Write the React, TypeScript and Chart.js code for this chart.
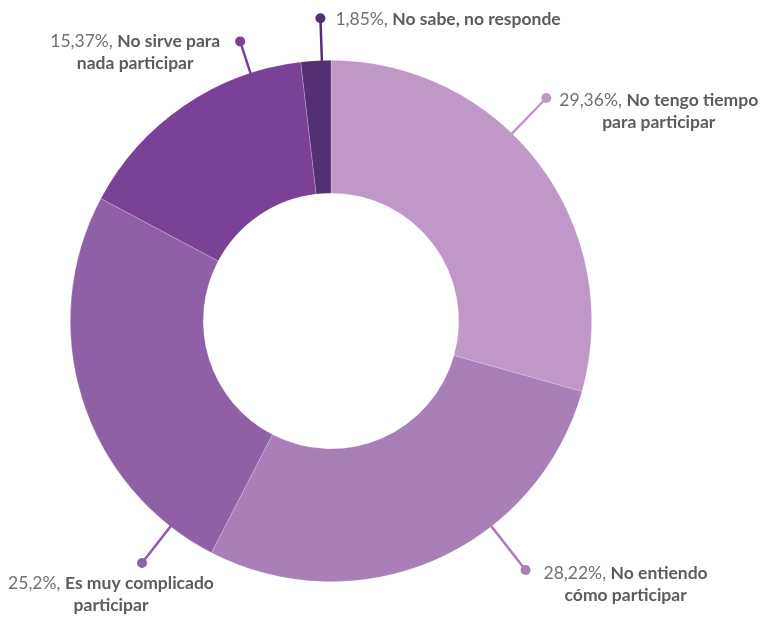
import React, { useEffect, useRef } from "react";
import { Chart, registerables } from "chart.js";

Chart.register(...registerables);

const categories: string[][] = [
  ["No tengo tiempo", "para participar"],
  ["No entiendo", "cómo participar"],
  ["Es muy complicado", "participar"],
  ["No sirve para", "nada participar"],
  ["No sabe, no responde"],
];
const values: number[] = [29.36, 28.22, 25.2, 15.37, 1.85];
const colors: string[] = ["#C098C7", "#A87FB7", "#9060A6", "#7B4197", "#532F74"];

// label placement (display only): connector angle (deg from top, clockwise), dot distance, text anchor
const labelAngles = [44, 142, 218, 342, 358];
const labelRadii = [310, 316, 307, 294, 303];
const labelAnchors = [
  { mode: "left", dx: 13, dy: 2 },
  { mode: "left", dx: 18, dy: 3 },
  { mode: "center", dx: -31, dy: 20 },
  { mode: "right", dx: -20, dy: 0 },
  { mode: "left", dx: 15, dy: 1 },
];

const FONT_FAMILY = "Lato, 'Open Sans', sans-serif";
const FONT_SIZE = 17.5;
const LINE_H = 22;

const labelPlugin = {
  id: "leaderLabels",
  afterDatasetsDraw(chart: any) {
    const ctx = chart.ctx as CanvasRenderingContext2D;
    const meta = chart.getDatasetMeta(0);
    const arc0 = meta.data[0] as any;
    const cx = arc0.x;
    const cy = arc0.y;
    const outer = arc0.outerRadius;
    const regFont = `400 ${FONT_SIZE}px ${FONT_FAMILY}`;
    const boldFont = `700 ${FONT_SIZE}px ${FONT_FAMILY}`;
    ctx.save();
    values.forEach((v, i) => {
      const a = (labelAngles[i] * Math.PI) / 180;
      const sx = cx + Math.sin(a) * (outer - 2);
      const sy = cy - Math.cos(a) * (outer - 2);
      const ex = cx + Math.sin(a) * labelRadii[i];
      const ey = cy - Math.cos(a) * labelRadii[i];
      ctx.strokeStyle = colors[i];
      ctx.lineWidth = 2.5;
      ctx.beginPath();
      ctx.moveTo(sx, sy);
      ctx.lineTo(ex, ey);
      ctx.stroke();
      ctx.fillStyle = colors[i];
      ctx.beginPath();
      ctx.arc(ex, ey, 5, 0, Math.PI * 2);
      ctx.fill();

      const pct = String(v).replace(".", ",") + "%, ";
      const lines = categories[i];
      ctx.font = regFont;
      const wPct = ctx.measureText(pct).width;
      ctx.font = boldFont;
      const wName = ctx.measureText(lines[0]).width;
      const w1 = wPct + wName;
      const anc = labelAnchors[i];
      let center: number;
      if (anc.mode === "left") center = ex + anc.dx + w1 / 2;
      else if (anc.mode === "right") center = ex + anc.dx - w1 / 2;
      else center = ex + anc.dx;
      const y1 = ey + anc.dy;
      ctx.textBaseline = "middle";
      ctx.textAlign = "left";
      const x1 = center - w1 / 2;
      ctx.font = regFont;
      ctx.fillStyle = "#707070";
      ctx.fillText(pct, x1, y1);
      ctx.font = boldFont;
      ctx.fillStyle = "#5C5C5C";
      ctx.fillText(lines[0], x1 + wPct, y1);
      for (let k = 1; k < lines.length; k++) {
        ctx.textAlign = "center";
        ctx.fillText(lines[k], center, y1 + LINE_H * k);
      }
    });
    ctx.restore();
  },
};

export default function App() {
  const ref = useRef<HTMLCanvasElement | null>(null);
  useEffect(() => {
    if (!ref.current) return;
    const chart = new Chart(ref.current, {
      type: "doughnut",
      data: {
        labels: categories.map((c) => c.join(" ")),
        datasets: [
          {
            data: values,
            backgroundColor: colors,
            borderColor: "rgba(255,255,255,0.35)",
            borderWidth: 0.6,
          },
        ],
      },
      options: {
        responsive: false,
        animation: false,
        cutout: "49%",
        layout: { padding: { left: 70, right: 168, top: 60, bottom: 38 } },
        plugins: {
          legend: { display: false },
          tooltip: { enabled: false },
        },
      },
      plugins: [labelPlugin],
    });
    return () => chart.destroy();
  }, []);
  return (
    <div style={{ position: "absolute", left: 0, top: 0, width: 760, height: 620, background: "#fff" }}>
      <canvas ref={ref} width={760} height={620} />
    </div>
  );
}
